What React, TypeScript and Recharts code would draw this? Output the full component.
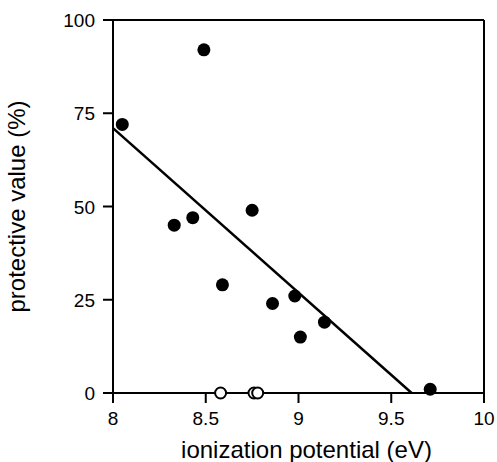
import {
  Label,
  ReferenceLine,
  Scatter,
  ScatterChart,
  XAxis,
  YAxis,
} from "recharts";

// filled dots: protective compounds
const filledPoints = [
  { x: 8.05, y: 72 },
  { x: 8.49, y: 92 },
  { x: 8.33, y: 45 },
  { x: 8.43, y: 47 },
  { x: 8.59, y: 29 },
  { x: 8.75, y: 49 },
  { x: 8.86, y: 24 },
  { x: 8.98, y: 26 },
  { x: 9.01, y: 15 },
  { x: 9.14, y: 19 },
  { x: 9.71, y: 1 },
];

// open dots: no protection
const openPoints = [
  { x: 8.58, y: 0 },
  { x: 8.76, y: 0 },
  { x: 8.78, y: 0 },
];

// regression line end points
const fitLine = [
  { x: 8, y: 71 },
  { x: 9.61, y: 0 },
];

const xTicks = [8, 8.5, 9, 9.5, 10];
const yTicks = [0, 25, 50, 75, 100];

const font = "'Liberation Sans', Arial, Helvetica, sans-serif";
const TICK = 10;
const X_GAP = 6;
const Y_GAP = 8;

// tick mark + label drawn together (rects render reliably)
function XTick(p: any) {
  const top = p.y - X_GAP - TICK;
  return (
    <g>
      <rect x={p.x - 1} y={top} width={2} height={TICK} fill="#000" />
      <text
        x={p.x}
        y={p.y}
        dy="0.85em"
        textAnchor="middle"
        fill="#000"
        fontSize={19}
        fontFamily={font}
      >
        {p.payload.value}
      </text>
    </g>
  );
}

function YTick(p: any) {
  const left = p.x + Y_GAP;
  return (
    <g>
      <rect x={left} y={p.y - 1} width={TICK} height={2} fill="#000" />
      <text
        x={p.x}
        y={p.y}
        dy="0.38em"
        textAnchor="end"
        fill="#000"
        fontSize={19}
        fontFamily={font}
      >
        {p.payload.value}
      </text>
    </g>
  );
}

export default function App() {
  return (
    <div style={{ position: "absolute", left: 0, top: 0, background: "#fff" }}>
      <ScatterChart
        width={497}
        height={462}
        margin={{ top: 20, right: 13, bottom: 0, left: 0 }}
      >
        <XAxis
          type="number"
          dataKey="x"
          domain={[8, 10]}
          ticks={xTicks}
          axisLine={{ stroke: "#000", strokeWidth: 2 }}
          tickLine={false}
          tickSize={TICK}
          tick={<XTick />}
          tickMargin={X_GAP}
          height={69}
        >
          <Label
            value="ionization potential (eV)"
            position="insideBottom"
            offset={4}
            dx={8}
            style={{ fill: "#000", fontSize: 24, fontFamily: font }}
          />
        </XAxis>
        <YAxis
          type="number"
          dataKey="y"
          domain={[0, 100]}
          ticks={yTicks}
          axisLine={{ stroke: "#000", strokeWidth: 2 }}
          tickLine={false}
          tickSize={TICK}
          tick={<YTick />}
          tickMargin={Y_GAP}
          width={113}
        >
          <Label
            value="protective value (%)"
            angle={-90}
            position="insideLeft"
            offset={16}
            style={{
              fill: "#000",
              fontSize: 24,
              fontFamily: font,
              textAnchor: "middle",
            }}
          />
        </YAxis>
        <ReferenceLine y={100} stroke="#000" strokeWidth={2} />
        <ReferenceLine x={10} stroke="#000" strokeWidth={2} />
        <Scatter
          data={fitLine}
          line={{ stroke: "#000", strokeWidth: 2.5 }}
          shape={() => <g />}
          isAnimationActive={false}
        />
        <Scatter
          data={filledPoints}
          isAnimationActive={false}
          shape={(p: any) => <circle cx={p.cx} cy={p.cy} r={6.5} fill="#000" />}
        />
        <Scatter
          data={openPoints}
          isAnimationActive={false}
          shape={(p: any) => (
            <circle cx={p.cx} cy={p.cy} r={5.5} fill="#fff" stroke="#000" strokeWidth={2} />
          )}
        />
      </ScatterChart>
    </div>
  );
}
